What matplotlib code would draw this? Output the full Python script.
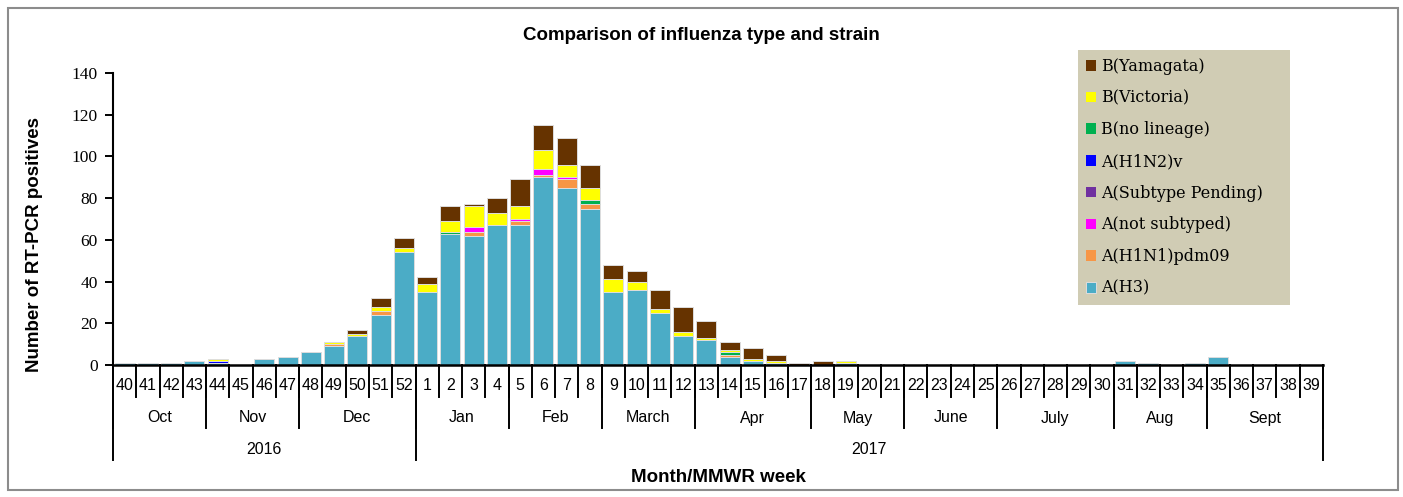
import numpy as np
import matplotlib
matplotlib.use('Agg')
import matplotlib.pyplot as plt
from matplotlib.patches import Rectangle

# MMWR weeks 40-52 of 2016, then 1-39 of 2017
weeks = [str(w) for w in range(40, 53)] + [str(w) for w in range(1, 40)]

# rows: wk 40-52 | wk 1-12 | wk 13-30 | wk 31-39
h3 = ([1, 1, 1, 2, 1, 0, 3, 4, 6, 9, 14, 24, 54] +
      [35, 63, 62, 67, 67, 90, 85, 75, 35, 36, 25, 14] +
      [12, 4, 2, 1, 0, 0, 1, 0, 0, 0, 0, 0, 0, 0, 0, 0, 0, 0] +
      [2, 1, 0, 1, 4, 0, 0, 0, 0])
h1n1pdm09 = ([0, 0, 0, 0, 0, 0, 0, 0, 0, 1, 0, 2, 0] +
             [0, 0, 2, 0, 2, 1, 4, 2, 0, 0, 0, 0] +
             [0, 1, 0, 0, 0, 0, 0, 0, 0, 0, 0, 0, 0, 0, 0, 0, 0, 0] +
             [0, 0, 0, 0, 0, 0, 0, 0, 0])
not_subtyped = ([0, 0, 0, 0, 0, 0, 0, 0, 0, 0, 0, 0, 0] +
                [0, 0, 2, 0, 1, 3, 1, 0, 0, 0, 0, 0] +
                [0, 0, 0, 0, 0, 0, 0, 0, 0, 0, 0, 0, 0, 0, 0, 0, 0, 0] +
                [0, 0, 0, 0, 0, 0, 0, 0, 0])
subtype_pending = [0] * 52
h1n2v = ([0, 0, 0, 0, 1, 0, 0, 0, 0, 0, 0, 0, 0] +
         [0, 0, 0, 0, 0, 0, 0, 0, 0, 0, 0, 0] +
         [0, 0, 0, 0, 0, 0, 0, 0, 0, 0, 0, 0, 0, 0, 0, 0, 0, 0] +
         [0, 0, 0, 0, 0, 0, 0, 0, 0])
no_lineage = ([0, 0, 0, 0, 0, 0, 0, 0, 0, 0, 0, 0, 0] +
              [0, 1, 0, 0, 0, 0, 0, 2, 0, 0, 0, 0] +
              [0, 1, 0, 0, 0, 0, 0, 0, 0, 0, 0, 0, 0, 0, 0, 0, 0, 0] +
              [0, 0, 0, 0, 0, 0, 0, 0, 0])
victoria = ([0, 0, 0, 0, 1, 0, 0, 0, 0, 1, 1, 2, 2] +
            [4, 5, 10, 6, 6, 9, 6, 6, 6, 4, 2, 2] +
            [1, 1, 1, 1, 0, 0, 1, 0, 0, 0, 0, 0, 0, 0, 0, 0, 0, 0] +
            [0, 0, 0, 0, 0, 0, 0, 0, 0])
yamagata = ([0, 0, 0, 0, 0, 0, 0, 0, 0, 0, 2, 4, 5] +
            [3, 7, 1, 7, 13, 12, 13, 11, 7, 5, 9, 12] +
            [8, 4, 5, 3, 1, 2, 0, 0, 0, 0, 0, 0, 0, 0, 0, 0, 0, 0] +
            [0, 0, 0, 0, 0, 0, 0, 0, 0])

series = [('A(H3)', h3, '#4BACC6'),
          ('A(H1N1)pdm09', h1n1pdm09, '#F79646'),
          ('A(not subtyped)', not_subtyped, '#FF00FF'),
          ('A(Subtype Pending)', subtype_pending, '#7030A0'),
          ('A(H1N2)v', h1n2v, '#0000FF'),
          ('B(no lineage)', no_lineage, '#00B050'),
          ('B(Victoria)', victoria, '#FFFF00'),
          ('B(Yamagata)', yamagata, '#663300')]

months = ['Oct', 'Nov', 'Dec', 'Jan', 'Feb', 'March', 'Apr', 'May', 'June', 'July', 'Aug', 'Sept']
month_weeks = [4, 4, 5, 4, 4, 4, 5, 4, 4, 5, 4, 5]
years = ['2016', '2017']
year_weeks = [13, 39]

W, H = 1403, 497
fig = plt.figure(figsize=(W / 100, H / 100), dpi=100)
ax = fig.add_axes([113 / W, (H - 365) / H, 1210 / W, 292 / H])

x = np.arange(len(weeks))
bottom = np.zeros(len(weeks))
handles = []
for name, vals, col in series:
    vals = np.array(vals, dtype=float)
    lw = np.where(vals > 0, 0.7, 0.0)
    b = ax.bar(x, vals, 0.86, bottom=bottom, color=col, edgecolor='#dddddd', linewidth=lw, label=name)
    handles.append(b)
    bottom += vals

ax.set_xlim(-0.5, len(weeks) - 0.5)
ax.set_ylim(0, 140)
ax.set_yticks(range(0, 141, 20))
ax.set_xticks([])
for s in ['top', 'right']:
    ax.spines[s].set_visible(False)
ax.spines['left'].set_linewidth(1.5)
ax.spines['bottom'].set_linewidth(1.8)
ax.tick_params(axis='y', direction='out', length=6, width=1.4, pad=5, labelsize=12.5)
for t in ax.get_yticklabels():
    t.set_fontfamily('Liberation Serif')

# multi-level category axis
tr = ax.get_xaxis_transform()
def ypos(p):
    return (365 - p) / 292

sans = 'Liberation Sans'
for i, w in enumerate(weeks):
    ax.text(i, ypos(386), w, transform=tr, ha='center', va='center', fontsize=11.5, family=sans)
for k in range(len(weeks) + 1):
    ax.plot([k - 0.5, k - 0.5], [0, ypos(397)], transform=tr, color='black', lw=1.4, clip_on=False)

start = 0
for m, n in zip(months, month_weeks):
    ax.text(start + n / 2 - 0.5, ypos(418), m, transform=tr, ha='center', va='center', fontsize=11.5, family=sans)
    ax.plot([start - 0.5, start - 0.5], [0, ypos(428)], transform=tr, color='black', lw=1.4, clip_on=False)
    start += n
ax.plot([start - 0.5, start - 0.5], [0, ypos(428)], transform=tr, color='black', lw=1.4, clip_on=False)

start = 0
for yv, n in zip(years, year_weeks):
    ax.text(start + n / 2 - 0.5, ypos(449), yv, transform=tr, ha='center', va='center', fontsize=11.5, family=sans)
    ax.plot([start - 0.5, start - 0.5], [0, ypos(460)], transform=tr, color='black', lw=1.4, clip_on=False)
    start += n
ax.plot([start - 0.5, start - 0.5], [0, ypos(460)], transform=tr, color='black', lw=1.4, clip_on=False)

fig.text(0.5, 1 - 35 / H, 'Comparison of influenza type and strain', ha='center', va='center',
         fontsize=13.5, fontweight='bold', family=sans)
fig.text(718 / W, 1 - 477 / H, 'Month/MMWR week', ha='center', va='center',
         fontsize=13.5, fontweight='bold', family=sans)
fig.text(35 / W, 1 - 245 / H, 'Number of RT-PCR positives', ha='center', va='center', rotation=90,
         fontsize=13.5, fontweight='bold', family=sans)

# legend background and legend
fig.patches.append(Rectangle((1078 / W, 1 - 305 / H), 212 / W, 255 / H, transform=fig.transFigure,
                             facecolor='#D0CCB4', edgecolor='none', zorder=0))
fig.legend(handles[::-1], [s[0] for s in series][::-1], loc='upper left',
           bbox_to_anchor=(1086 / W, 1 - 58 / H), frameon=False, borderpad=0, borderaxespad=0,
           prop={'family': 'DejaVu Serif', 'size': 11.5}, labelspacing=0.92,
           handlelength=0.65, handleheight=0.65, handletextpad=0.3)

# outer frame
fig.patches.append(Rectangle((8 / W, 1 - 490 / H), 1390 / W, 482 / H, transform=fig.transFigure,
                             facecolor='none', edgecolor='#8c8c8c', linewidth=1.5))

fig.savefig('out.png', dpi=100)
